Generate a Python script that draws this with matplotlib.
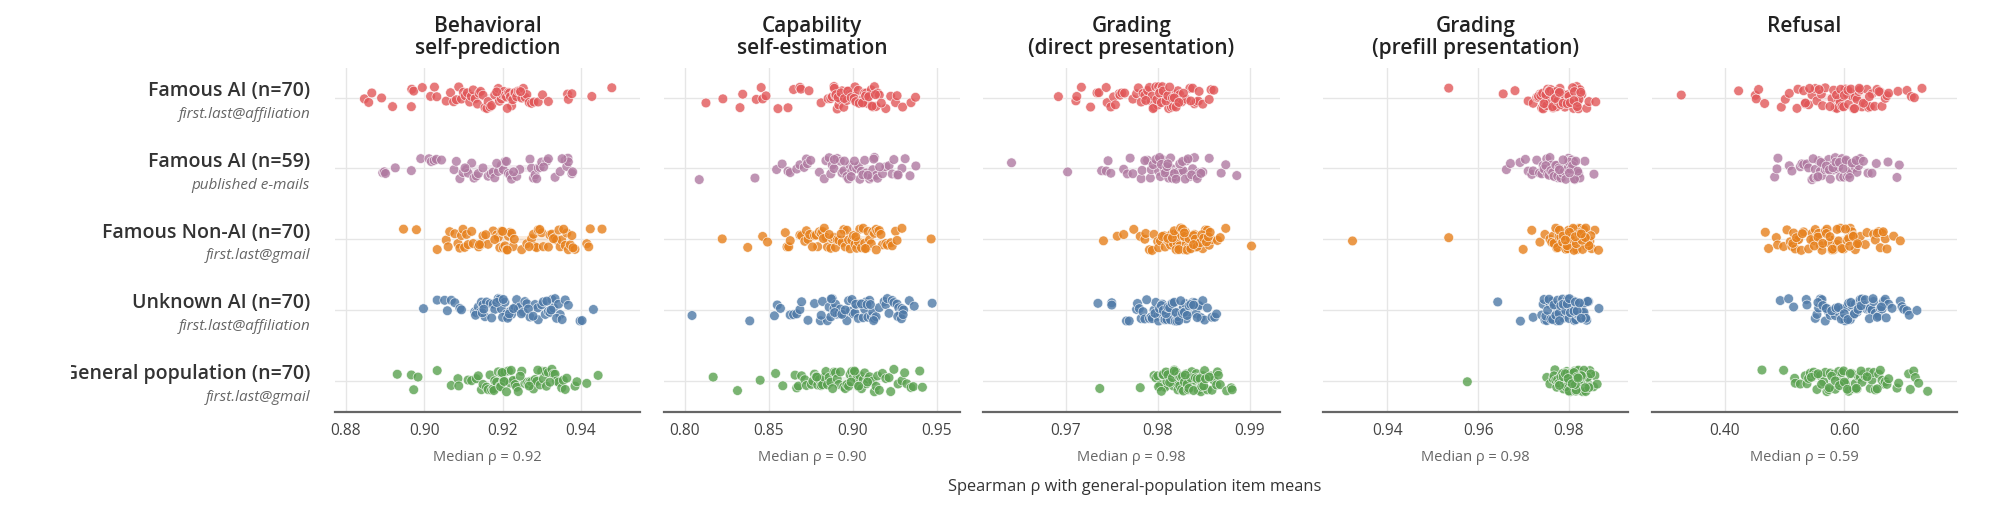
import numpy as np
import pandas as pd
import matplotlib.pyplot as plt
import seaborn as sns
from matplotlib.transforms import Bbox, TransformedBbox

plt.rcParams['font.family'] = ['Open Sans', 'DejaVu Sans']

# groups / rows (top to bottom)
groups = ['Famous AI (n=70)', 'Famous AI (n=59)', 'Famous Non-AI (n=70)',
          'Unknown AI (n=70)', 'General population (n=70)']
subtitles = ['first.last@affiliation', 'published e-mails', 'first.last@gmail',
             'first.last@affiliation', 'first.last@gmail']
colors = ['#e15759', '#b07aa1', '#e6801c', '#4e79a7', '#59a14f']

titles = ['Behavioral\nself-prediction', 'Capability\nself-estimation',
          'Grading\n(direct presentation)', 'Grading\n(prefill presentation)', 'Refusal']
median_labels = ['Median ρ = 0.92', 'Median ρ = 0.90', 'Median ρ = 0.98',
                 'Median ρ = 0.98', 'Median ρ = 0.59']
tick_vals = [[0.88, 0.90, 0.92, 0.94], [0.80, 0.85, 0.90, 0.95], [0.97, 0.98, 0.99],
             [0.94, 0.96, 0.98], [0.40, 0.60]]
xlims = [(0.8772, 0.9551), (0.7875, 0.9639), (0.9610, 0.9933), (0.9258, 0.9930), (0.2787, 0.7883)]

# ---- Behavioral self-prediction ----
behav_famous_ai = [0.8847, 0.8858, 0.8866, 0.8891, 0.8919, 0.8967, 0.8968, 0.8973, 0.8995, 0.9016,
                   0.9026, 0.9032, 0.9056, 0.9067, 0.9075, 0.9082, 0.9088, 0.9095, 0.9100, 0.9105,
                   0.9110, 0.9116, 0.9120, 0.9125, 0.9130, 0.9136, 0.9140, 0.9144, 0.9150, 0.9155,
                   0.9160, 0.9163, 0.9168, 0.9172, 0.9180, 0.9189, 0.9192, 0.9197, 0.9200, 0.9203,
                   0.9206, 0.9210, 0.9215, 0.9218, 0.9220, 0.9223, 0.9226, 0.9230, 0.9232, 0.9236,
                   0.9240, 0.9244, 0.9249, 0.9253, 0.9258, 0.9262, 0.9268, 0.9274, 0.9280, 0.9291,
                   0.9302, 0.9317, 0.9366, 0.9368, 0.9377, 0.9428, 0.9479, 0.9185, 0.9212, 0.9246]
behav_famous_pub = [0.8894, 0.8898, 0.8901, 0.8926, 0.8967, 0.8991, 0.9012, 0.9018, 0.9025, 0.9031,
                    0.9044, 0.9076, 0.9082, 0.9091, 0.9099, 0.9108, 0.9112, 0.9121, 0.9127, 0.9133,
                    0.9138, 0.9150, 0.9163, 0.9170, 0.9176, 0.9180, 0.9189, 0.9197, 0.9202, 0.9206,
                    0.9210, 0.9215, 0.9219, 0.9223, 0.9236, 0.9244, 0.9270, 0.9274, 0.9279, 0.9283,
                    0.9291, 0.9296, 0.9300, 0.9313, 0.9317, 0.9334, 0.9347, 0.9360, 0.9364, 0.9367,
                    0.9368, 0.9377, 0.9379, 0.9104, 0.9185, 0.9228, 0.9287, 0.9305, 0.9352]
behav_nonai = [0.8947, 0.8980, 0.9033, 0.9056, 0.9061, 0.9065, 0.9078, 0.9086, 0.9091, 0.9095,
               0.9099, 0.9103, 0.9108, 0.9112, 0.9121, 0.9125, 0.9139, 0.9146, 0.9150, 0.9163,
               0.9176, 0.9185, 0.9189, 0.9193, 0.9197, 0.9202, 0.9206, 0.9210, 0.9215, 0.9219,
               0.9223, 0.9227, 0.9249, 0.9262, 0.9274, 0.9279, 0.9283, 0.9287, 0.9291, 0.9300,
               0.9304, 0.9317, 0.9321, 0.9326, 0.9334, 0.9338, 0.9344, 0.9347, 0.9351, 0.9360,
               0.9364, 0.9368, 0.9373, 0.9377, 0.9385, 0.9415, 0.9420, 0.9424, 0.9454, 0.9141,
               0.9157, 0.9180, 0.9200, 0.9212, 0.9230, 0.9268, 0.9295, 0.9330, 0.9356, 0.9380]
behav_unknown = [0.8998, 0.9033, 0.9052, 0.9059, 0.9069, 0.9078, 0.9091, 0.9095, 0.9129, 0.9133,
                 0.9138, 0.9142, 0.9146, 0.9150, 0.9155, 0.9159, 0.9168, 0.9176, 0.9180, 0.9189,
                 0.9193, 0.9197, 0.9206, 0.9210, 0.9215, 0.9219, 0.9223, 0.9232, 0.9236, 0.9240,
                 0.9244, 0.9253, 0.9257, 0.9262, 0.9270, 0.9283, 0.9290, 0.9291, 0.9300, 0.9304,
                 0.9309, 0.9317, 0.9321, 0.9326, 0.9330, 0.9334, 0.9343, 0.9347, 0.9360, 0.9368,
                 0.9398, 0.9403, 0.9432, 0.9131, 0.9148, 0.9152, 0.9172, 0.9185, 0.9200, 0.9202,
                 0.9213, 0.9217, 0.9228, 0.9248, 0.9266, 0.9278, 0.9313, 0.9324, 0.9338, 0.9352]
behav_general = [0.8931, 0.8967, 0.8973, 0.8984, 0.9033, 0.9069, 0.9086, 0.9088, 0.9112, 0.9121,
                 0.9133, 0.9138, 0.9146, 0.9150, 0.9159, 0.9163, 0.9168, 0.9172, 0.9176, 0.9180,
                 0.9185, 0.9189, 0.9193, 0.9197, 0.9202, 0.9206, 0.9215, 0.9219, 0.9227, 0.9232,
                 0.9236, 0.9240, 0.9249, 0.9257, 0.9262, 0.9266, 0.9270, 0.9274, 0.9279, 0.9283,
                 0.9287, 0.9296, 0.9300, 0.9304, 0.9309, 0.9317, 0.9326, 0.9330, 0.9334, 0.9338,
                 0.9343, 0.9351, 0.9355, 0.9360, 0.9364, 0.9385, 0.9390, 0.9415, 0.9444, 0.9178,
                 0.9195, 0.9199, 0.9204, 0.9210, 0.9222, 0.9245, 0.9268, 0.9290, 0.9312, 0.9321]

# ---- Capability self-estimation ----
capab_famous_ai = [0.8125, 0.8226, 0.8328, 0.8344, 0.8425, 0.8454, 0.8463, 0.8483, 0.8554, 0.8614,
                   0.8647, 0.8685, 0.8691, 0.8739, 0.8811, 0.8853, 0.8869, 0.8878, 0.8888, 0.8897,
                   0.8907, 0.8917, 0.8926, 0.8936, 0.8946, 0.8955, 0.8965, 0.8975, 0.8984, 0.8994,
                   0.9004, 0.9013, 0.9023, 0.9033, 0.9042, 0.9052, 0.9062, 0.9071, 0.9081, 0.9090,
                   0.9100, 0.9110, 0.9119, 0.9129, 0.9139, 0.9148, 0.9158, 0.9197, 0.9226, 0.9255,
                   0.9264, 0.9297, 0.9347, 0.9374, 0.8890, 0.8900, 0.8912, 0.8930, 0.8950, 0.8970,
                   0.8990, 0.9008, 0.9018, 0.9038, 0.9058, 0.9076, 0.9095, 0.9115, 0.9135, 0.9170]
capab_famous_pub = [0.8085, 0.8417, 0.8546, 0.8579, 0.8614, 0.8627, 0.8666, 0.8685, 0.8710, 0.8724,
                    0.8730, 0.8749, 0.8801, 0.8830, 0.8840, 0.8859, 0.8869, 0.8878, 0.8888, 0.8907,
                    0.8926, 0.8936, 0.8946, 0.8965, 0.8975, 0.8984, 0.8994, 0.9004, 0.9023, 0.9033,
                    0.9042, 0.9052, 0.9071, 0.9081, 0.9100, 0.9110, 0.9119, 0.9129, 0.9139, 0.9148,
                    0.9177, 0.9197, 0.9216, 0.9235, 0.9245, 0.9264, 0.9293, 0.9312, 0.9341, 0.9376,
                    0.8890, 0.8950, 0.8990, 0.9010, 0.9060, 0.9090, 0.9125, 0.9160, 0.9270]
capab_nonai = [0.8222, 0.8374, 0.8463, 0.8492, 0.8598, 0.8608, 0.8618, 0.8627, 0.8685, 0.8695,
               0.8714, 0.8724, 0.8733, 0.8743, 0.8772, 0.8782, 0.8791, 0.8801, 0.8811, 0.8820,
               0.8830, 0.8840, 0.8849, 0.8869, 0.8878, 0.8888, 0.8897, 0.8907, 0.8917, 0.8936,
               0.8946, 0.8955, 0.8965, 0.8975, 0.8984, 0.8994, 0.9004, 0.9013, 0.9023, 0.9033,
               0.9042, 0.9052, 0.9062, 0.9071, 0.9081, 0.9090, 0.9100, 0.9110, 0.9119, 0.9129,
               0.9139, 0.9148, 0.9158, 0.9168, 0.9177, 0.9197, 0.9206, 0.9226, 0.9235, 0.9255,
               0.9264, 0.9293, 0.9467, 0.8760, 0.8825, 0.8860, 0.8930, 0.9018, 0.9075, 0.9140]
capab_unknown = [0.8042, 0.8386, 0.8533, 0.8550, 0.8569, 0.8627, 0.8647, 0.8666, 0.8685, 0.8695,
                 0.8733, 0.8772, 0.8807, 0.8820, 0.8849, 0.8859, 0.8869, 0.8878, 0.8888, 0.8897,
                 0.8907, 0.8917, 0.8926, 0.8946, 0.8965, 0.8975, 0.8984, 0.9004, 0.9013, 0.9023,
                 0.9033, 0.9042, 0.9062, 0.9071, 0.9081, 0.9090, 0.9100, 0.9110, 0.9119, 0.9129,
                 0.9139, 0.9158, 0.9187, 0.9197, 0.9206, 0.9216, 0.9235, 0.9245, 0.9264, 0.9274,
                 0.9283, 0.9293, 0.9303, 0.9337, 0.9366, 0.9473, 0.8812, 0.8872, 0.8892, 0.8935,
                 0.8955, 0.8995, 0.9018, 0.9052, 0.9085, 0.9105, 0.9124, 0.9268, 0.9290, 0.9300]
capab_general = [0.8168, 0.8313, 0.8448, 0.8540, 0.8583, 0.8656, 0.8666, 0.8676, 0.8695, 0.8714,
                 0.8724, 0.8753, 0.8762, 0.8772, 0.8782, 0.8791, 0.8801, 0.8811, 0.8820, 0.8830,
                 0.8840, 0.8849, 0.8859, 0.8869, 0.8888, 0.8897, 0.8907, 0.8917, 0.8926, 0.8946,
                 0.8955, 0.8965, 0.8975, 0.8984, 0.8994, 0.9004, 0.9013, 0.9023, 0.9033, 0.9042,
                 0.9052, 0.9062, 0.9071, 0.9081, 0.9090, 0.9100, 0.9119, 0.9129, 0.9139, 0.9148,
                 0.9158, 0.9177, 0.9197, 0.9216, 0.9226, 0.9245, 0.9270, 0.9293, 0.9309, 0.9322,
                 0.9347, 0.9361, 0.9399, 0.9415, 0.8785, 0.8880, 0.8990, 0.9010, 0.9035, 0.9088]

# ---- Grading (direct presentation) ----
direct_famous_ai = [0.9692, 0.9711, 0.9712, 0.9717, 0.9727, 0.9734, 0.9736, 0.9744, 0.9745, 0.9749,
                    0.9752, 0.9754, 0.9758, 0.9759, 0.9761, 0.9764, 0.9773, 0.9777, 0.9779, 0.9782,
                    0.9784, 0.9786, 0.9789, 0.9791, 0.9793, 0.9794, 0.9796, 0.9798, 0.9800, 0.9801,
                    0.9803, 0.9805, 0.9807, 0.9808, 0.9810, 0.9812, 0.9814, 0.9815, 0.9817, 0.9819,
                    0.9821, 0.9822, 0.9824, 0.9826, 0.9831, 0.9835, 0.9838, 0.9840, 0.9842, 0.9844,
                    0.9845, 0.9849, 0.9856, 0.9858, 0.9861, 0.9787, 0.9795, 0.9799, 0.9802, 0.9804,
                    0.9806, 0.9809, 0.9811, 0.9813, 0.9816, 0.9818, 0.9820, 0.9823, 0.9828, 0.9836]
direct_famous_pub = [0.9641, 0.9702, 0.9739, 0.9744, 0.9746, 0.9749, 0.9763, 0.9767, 0.9770, 0.9773,
                     0.9782, 0.9783, 0.9789, 0.9792, 0.9793, 0.9800, 0.9801, 0.9803, 0.9805, 0.9807,
                     0.9809, 0.9812, 0.9814, 0.9815, 0.9817, 0.9819, 0.9821, 0.9822, 0.9826, 0.9828,
                     0.9831, 0.9835, 0.9838, 0.9840, 0.9842, 0.9845, 0.9849, 0.9856, 0.9869, 0.9874,
                     0.9886, 0.9786, 0.9795, 0.9798, 0.9802, 0.9804, 0.9808, 0.9810, 0.9811, 0.9816,
                     0.9818, 0.9820, 0.9824, 0.9827, 0.9830, 0.9833, 0.9837, 0.9843, 0.9847]
direct_nonai = [0.9741, 0.9756, 0.9763, 0.9774, 0.9781, 0.9786, 0.9787, 0.9791, 0.9794, 0.9796,
                0.9800, 0.9801, 0.9803, 0.9807, 0.9808, 0.9810, 0.9812, 0.9814, 0.9815, 0.9817,
                0.9819, 0.9821, 0.9822, 0.9824, 0.9826, 0.9828, 0.9830, 0.9831, 0.9833, 0.9835,
                0.9837, 0.9838, 0.9840, 0.9842, 0.9844, 0.9845, 0.9847, 0.9849, 0.9851, 0.9852,
                0.9854, 0.9856, 0.9859, 0.9865, 0.9868, 0.9874, 0.9902, 0.9805, 0.9811, 0.9816,
                0.9818, 0.9820, 0.9823, 0.9825, 0.9827, 0.9829, 0.9832, 0.9834, 0.9836, 0.9839,
                0.9841, 0.9843, 0.9846, 0.9848, 0.9850, 0.9853, 0.9855, 0.9857, 0.9829, 0.9839]
direct_unknown = [0.9735, 0.9750, 0.9750, 0.9766, 0.9769, 0.9777, 0.9778, 0.9780, 0.9782, 0.9784,
                  0.9786, 0.9791, 0.9793, 0.9794, 0.9796, 0.9798, 0.9800, 0.9801, 0.9803, 0.9805,
                  0.9807, 0.9808, 0.9810, 0.9812, 0.9814, 0.9815, 0.9817, 0.9819, 0.9821, 0.9822,
                  0.9824, 0.9826, 0.9828, 0.9830, 0.9831, 0.9833, 0.9835, 0.9837, 0.9838, 0.9840,
                  0.9842, 0.9844, 0.9845, 0.9847, 0.9849, 0.9851, 0.9854, 0.9859, 0.9862, 0.9864,
                  0.9788, 0.9797, 0.9802, 0.9804, 0.9806, 0.9809, 0.9811, 0.9813, 0.9816, 0.9818,
                  0.9820, 0.9823, 0.9825, 0.9827, 0.9829, 0.9832, 0.9834, 0.9836, 0.9839, 0.9843]
direct_general = [0.9737, 0.9781, 0.9796, 0.9798, 0.9800, 0.9803, 0.9805, 0.9807, 0.9808, 0.9810,
                  0.9812, 0.9814, 0.9815, 0.9817, 0.9819, 0.9821, 0.9822, 0.9824, 0.9826, 0.9828,
                  0.9830, 0.9831, 0.9833, 0.9835, 0.9837, 0.9838, 0.9840, 0.9842, 0.9844, 0.9845,
                  0.9847, 0.9849, 0.9851, 0.9854, 0.9858, 0.9859, 0.9861, 0.9864, 0.9865, 0.9866,
                  0.9868, 0.9875, 0.9880, 0.9881, 0.9801, 0.9804, 0.9806, 0.9809, 0.9811, 0.9813,
                  0.9816, 0.9818, 0.9820, 0.9823, 0.9825, 0.9827, 0.9829, 0.9832, 0.9834, 0.9836,
                  0.9839, 0.9841, 0.9843, 0.9846, 0.9848, 0.9850, 0.9852, 0.9856, 0.9818, 0.9830]

# ---- Grading (prefill presentation) ----
prefill_famous_ai = [0.9535, 0.9655, 0.9681, 0.9710, 0.9721, 0.9729, 0.9732, 0.9736, 0.9740, 0.9743,
                     0.9747, 0.9751, 0.9754, 0.9758, 0.9762, 0.9765, 0.9769, 0.9773, 0.9776, 0.9780,
                     0.9784, 0.9788, 0.9791, 0.9795, 0.9799, 0.9802, 0.9806, 0.9810, 0.9813, 0.9817,
                     0.9821, 0.9824, 0.9828, 0.9839, 0.9844, 0.9859, 0.9733, 0.9738, 0.9742, 0.9745,
                     0.9749, 0.9753, 0.9756, 0.9760, 0.9764, 0.9767, 0.9771, 0.9775, 0.9778, 0.9782,
                     0.9786, 0.9790, 0.9793, 0.9797, 0.9800, 0.9804, 0.9808, 0.9812, 0.9815, 0.9819,
                     0.9822, 0.9826, 0.9757, 0.9770, 0.9779, 0.9787, 0.9796, 0.9803, 0.9811, 0.9818]
prefill_famous_pub = [0.9662, 0.9671, 0.9692, 0.9704, 0.9710, 0.9718, 0.9721, 0.9729, 0.9735, 0.9740,
                      0.9743, 0.9747, 0.9751, 0.9754, 0.9758, 0.9762, 0.9765, 0.9769, 0.9773, 0.9776,
                      0.9780, 0.9784, 0.9788, 0.9791, 0.9795, 0.9799, 0.9802, 0.9806, 0.9810, 0.9813,
                      0.9817, 0.9821, 0.9824, 0.9835, 0.9855, 0.9745, 0.9749, 0.9753, 0.9756, 0.9760,
                      0.9764, 0.9767, 0.9771, 0.9775, 0.9778, 0.9782, 0.9786, 0.9790, 0.9793, 0.9797,
                      0.9800, 0.9804, 0.9808, 0.9812, 0.9815, 0.9819, 0.9779, 0.9787, 0.9801]
prefill_nonai = [0.9323, 0.9535, 0.9699, 0.9718, 0.9736, 0.9747, 0.9758, 0.9765, 0.9769, 0.9773,
                 0.9776, 0.9780, 0.9784, 0.9788, 0.9791, 0.9795, 0.9799, 0.9802, 0.9806, 0.9810,
                 0.9813, 0.9817, 0.9821, 0.9824, 0.9828, 0.9832, 0.9835, 0.9839, 0.9843, 0.9846,
                 0.9850, 0.9857, 0.9865, 0.9762, 0.9767, 0.9771, 0.9775, 0.9778, 0.9782, 0.9786,
                 0.9790, 0.9793, 0.9797, 0.9800, 0.9804, 0.9808, 0.9811, 0.9815, 0.9819, 0.9822,
                 0.9826, 0.9830, 0.9833, 0.9837, 0.9841, 0.9844, 0.9848, 0.9779, 0.9787, 0.9796,
                 0.9803, 0.9809, 0.9816, 0.9823, 0.9829, 0.9836, 0.9801, 0.9814, 0.9827, 0.9792]
prefill_unknown = [0.9643, 0.9693, 0.9721, 0.9740, 0.9743, 0.9747, 0.9751, 0.9754, 0.9758, 0.9762,
                   0.9765, 0.9769, 0.9773, 0.9776, 0.9780, 0.9784, 0.9788, 0.9791, 0.9795, 0.9799,
                   0.9802, 0.9806, 0.9810, 0.9813, 0.9817, 0.9821, 0.9824, 0.9828, 0.9832, 0.9835,
                   0.9839, 0.9843, 0.9866, 0.9745, 0.9749, 0.9753, 0.9756, 0.9760, 0.9764, 0.9767,
                   0.9771, 0.9775, 0.9778, 0.9782, 0.9786, 0.9790, 0.9793, 0.9797, 0.9800, 0.9804,
                   0.9808, 0.9812, 0.9815, 0.9819, 0.9822, 0.9826, 0.9830, 0.9833, 0.9837, 0.9841,
                   0.9779, 0.9787, 0.9796, 0.9803, 0.9811, 0.9818, 0.9827, 0.9801, 0.9814, 0.9823]
prefill_general = [0.9576, 0.9751, 0.9758, 0.9765, 0.9769, 0.9773, 0.9776, 0.9780, 0.9784, 0.9788,
                   0.9791, 0.9795, 0.9799, 0.9802, 0.9806, 0.9810, 0.9813, 0.9817, 0.9821, 0.9824,
                   0.9828, 0.9832, 0.9835, 0.9839, 0.9843, 0.9846, 0.9854, 0.9857, 0.9862, 0.9767,
                   0.9771, 0.9775, 0.9778, 0.9782, 0.9786, 0.9790, 0.9793, 0.9797, 0.9800, 0.9804,
                   0.9808, 0.9812, 0.9815, 0.9819, 0.9822, 0.9826, 0.9830, 0.9833, 0.9837, 0.9841,
                   0.9844, 0.9848, 0.9779, 0.9787, 0.9796, 0.9803, 0.9809, 0.9816, 0.9823, 0.9829,
                   0.9836, 0.9801, 0.9814, 0.9827, 0.9792, 0.9811, 0.9818, 0.9798, 0.9807, 0.9820]

# ---- Refusal ----
refusal_famous_ai = [0.3276, 0.4234, 0.4513, 0.4529, 0.4568, 0.4669, 0.4947, 0.5014, 0.5081, 0.5209,
                     0.5226, 0.5320, 0.5348, 0.5404, 0.5460, 0.5515, 0.5543, 0.5616, 0.5638, 0.5682,
                     0.5794, 0.5822, 0.5850, 0.5877, 0.5905, 0.5933, 0.5961, 0.5989, 0.6017, 0.6045,
                     0.6072, 0.6100, 0.6128, 0.6156, 0.6184, 0.6212, 0.6240, 0.6267, 0.6295, 0.6351,
                     0.6379, 0.6407, 0.6435, 0.6462, 0.6507, 0.6546, 0.6602, 0.6630, 0.6685, 0.6713,
                     0.6741, 0.6897, 0.7047, 0.7120, 0.7170, 0.7298, 0.5350, 0.5420, 0.5580, 0.5760,
                     0.5870, 0.5940, 0.6000, 0.6060, 0.6110, 0.6170, 0.6250, 0.6320, 0.6420, 0.6580]
refusal_famous_pub = [0.4836, 0.4875, 0.4891, 0.5081, 0.5125, 0.5265, 0.5292, 0.5320, 0.5376, 0.5404,
                      0.5460, 0.5488, 0.5515, 0.5543, 0.5571, 0.5599, 0.5627, 0.5655, 0.5682, 0.5710,
                      0.5738, 0.5766, 0.5794, 0.5822, 0.5850, 0.5877, 0.5905, 0.5933, 0.5961, 0.5989,
                      0.6017, 0.6045, 0.6072, 0.6100, 0.6156, 0.6184, 0.6212, 0.6240, 0.6267, 0.6396,
                      0.6462, 0.6535, 0.6730, 0.6880, 0.6919, 0.5480, 0.5560, 0.5610, 0.5700, 0.5750,
                      0.5810, 0.5860, 0.5920, 0.5980, 0.6030, 0.6090, 0.6130, 0.6200, 0.6320]
refusal_nonai = [0.4680, 0.4735, 0.4864, 0.4886, 0.4986, 0.5042, 0.5097, 0.5125, 0.5153, 0.5181,
                 0.5209, 0.5237, 0.5281, 0.5320, 0.5404, 0.5460, 0.5488, 0.5515, 0.5543, 0.5571,
                 0.5599, 0.5627, 0.5682, 0.5710, 0.5738, 0.5794, 0.5822, 0.5850, 0.5877, 0.5905,
                 0.5933, 0.5989, 0.6045, 0.6072, 0.6100, 0.6128, 0.6156, 0.6184, 0.6212, 0.6240,
                 0.6267, 0.6351, 0.6379, 0.6490, 0.6518, 0.6574, 0.6602, 0.6630, 0.6685, 0.6713,
                 0.6825, 0.6936, 0.5140, 0.5200, 0.5300, 0.5440, 0.5500, 0.5560, 0.5640, 0.5700,
                 0.5760, 0.5800, 0.5880, 0.5960, 0.6020, 0.6090, 0.6150, 0.6220, 0.6550, 0.6650]
refusal_unknown = [0.4930, 0.5070, 0.5153, 0.5365, 0.5376, 0.5515, 0.5543, 0.5571, 0.5599, 0.5627,
                   0.5682, 0.5710, 0.5738, 0.5766, 0.5822, 0.5850, 0.5877, 0.5933, 0.5961, 0.5989,
                   0.6017, 0.6045, 0.6072, 0.6100, 0.6128, 0.6156, 0.6184, 0.6212, 0.6240, 0.6267,
                   0.6295, 0.6323, 0.6379, 0.6407, 0.6435, 0.6462, 0.6490, 0.6518, 0.6574, 0.6602,
                   0.6630, 0.6657, 0.6685, 0.6741, 0.6797, 0.6936, 0.6964, 0.6992, 0.7047, 0.7086,
                   0.7214, 0.5560, 0.5640, 0.5700, 0.5790, 0.5860, 0.5900, 0.5950, 0.6000, 0.6060,
                   0.6110, 0.6170, 0.6230, 0.6280, 0.6350, 0.6420, 0.6480, 0.6550, 0.6620, 0.6700]
refusal_general = [0.4624, 0.4986, 0.5170, 0.5181, 0.5265, 0.5348, 0.5376, 0.5404, 0.5432, 0.5488,
                   0.5515, 0.5543, 0.5599, 0.5655, 0.5682, 0.5710, 0.5738, 0.5766, 0.5822, 0.5850,
                   0.5877, 0.5905, 0.5933, 0.5961, 0.5989, 0.6017, 0.6072, 0.6128, 0.6156, 0.6184,
                   0.6212, 0.6240, 0.6267, 0.6295, 0.6323, 0.6351, 0.6407, 0.6435, 0.6462, 0.6490,
                   0.6518, 0.6574, 0.6602, 0.6630, 0.6657, 0.6685, 0.6713, 0.6741, 0.6880, 0.6908,
                   0.7075, 0.7103, 0.7159, 0.7187, 0.7242, 0.7393, 0.5450, 0.5560, 0.5620, 0.5750,
                   0.5790, 0.5850, 0.5920, 0.6000, 0.6050, 0.6100, 0.6200, 0.6280, 0.6380, 0.6550]

panels = [
    [behav_famous_ai, behav_famous_pub, behav_nonai, behav_unknown, behav_general],
    [capab_famous_ai, capab_famous_pub, capab_nonai, capab_unknown, capab_general],
    [direct_famous_ai, direct_famous_pub, direct_nonai, direct_unknown, direct_general],
    [prefill_famous_ai, prefill_famous_pub, prefill_nonai, prefill_unknown, prefill_general],
    [refusal_famous_ai, refusal_famous_pub, refusal_nonai, refusal_unknown, refusal_general],
]

np.random.seed(3)
W, H = 2000, 516
fig = plt.figure(figsize=(W / 100, H / 100), dpi=100)

ax_left = [335, 664, 983, 1323, 1652]
ax_right = [640, 960, 1280, 1628, 1957]
top_px, bot_px = 68, 411.7
palette = dict(zip(groups, colors))

# the row labels are cut off at a fixed left margin in the original
label_clip = TransformedBbox(Bbox([[71 / W, 0], [1, 1]]), fig.transFigure)

for i, series in enumerate(panels):
    ax = fig.add_axes([ax_left[i] / W, 1 - bot_px / H, (ax_right[i] - ax_left[i]) / W,
                       (bot_px - top_px) / H])
    df = pd.DataFrame({
        'group': np.concatenate([[g] * len(v) for g, v in zip(groups, series)]),
        'rho': np.concatenate(series),
    })

    # faint IQR box + median tick behind the points
    bp = ax.boxplot(series, positions=range(5), orientation='horizontal', widths=0.1,
                    patch_artist=True, whis=0, showcaps=False, showfliers=False,
                    whiskerprops=dict(linewidth=0), manage_ticks=False, zorder=1)
    for patch, med, c in zip(bp['boxes'], bp['medians'], colors):
        patch.set_facecolor(c)
        patch.set_alpha(0.15)
        patch.set_edgecolor('none')
        med.set_color(c)
        med.set_linewidth(1.5)

    sns.stripplot(data=df, x='rho', y='group', hue='group', order=groups, palette=palette,
                  orient='h', jitter=0.16, size=7, edgecolor='white', linewidth=0.5,
                  alpha=0.8, legend=False, ax=ax, zorder=3)

    ax.set_xlim(*xlims[i])
    ax.set_ylim(4.44, -0.42)
    ax.set_xticks(tick_vals[i])
    ax.set_xticklabels([f'{t:.2f}' for t in tick_vals[i]])
    ax.set_yticks(range(5))
    ax.set_yticklabels([])
    ax.set_xlabel('')
    ax.set_ylabel('')
    ax.tick_params(axis='both', length=0)
    ax.tick_params(axis='x', pad=8, labelsize=11.2, labelcolor='#444444')
    ax.grid(True, color='#e6e6e6', linewidth=1)
    ax.set_axisbelow(True)
    for s in ['left', 'top', 'right']:
        ax.spines[s].set_visible(False)
    ax.spines['bottom'].set_color('#666666')
    ax.spines['bottom'].set_linewidth(1.6)

    ax.text(0.5, 1 + (top_px - 16) / (bot_px - top_px), titles[i], transform=ax.transAxes,
            ha='center', va='top', fontsize=15, fontweight='semibold', color='#222222',
            linespacing=1.05)
    ax.annotate(median_labels[i], xy=(0.5, 0), xycoords='axes fraction',
                xytext=(0, -33), textcoords='offset points', ha='center', va='center',
                fontsize=10.5, color='#666666')

    if i == 0:
        for r, (g, sub) in enumerate(zip(groups, subtitles)):
            t = ax.annotate(g, xy=(0, r), xycoords=('axes fraction', 'data'),
                            xytext=(-18, 1), textcoords='offset points', ha='right',
                            va='baseline', fontsize=14, fontweight='semibold', color='#333333',
                            annotation_clip=False)
            t.set_clip_box(label_clip)
            t.set_clip_on(True)
            ax.annotate(sub, xy=(0, r), xycoords=('axes fraction', 'data'),
                        xytext=(-18, -14.5), textcoords='offset points', ha='right',
                        va='baseline', fontsize=11, style='italic', color='#666666',
                        annotation_clip=False)

fig.text(1135 / W, 1 - 487 / H, 'Spearman ρ with general-population item means',
         ha='center', va='center', fontsize=11.8, color='#333333')

fig.savefig('out.png', dpi=100)
